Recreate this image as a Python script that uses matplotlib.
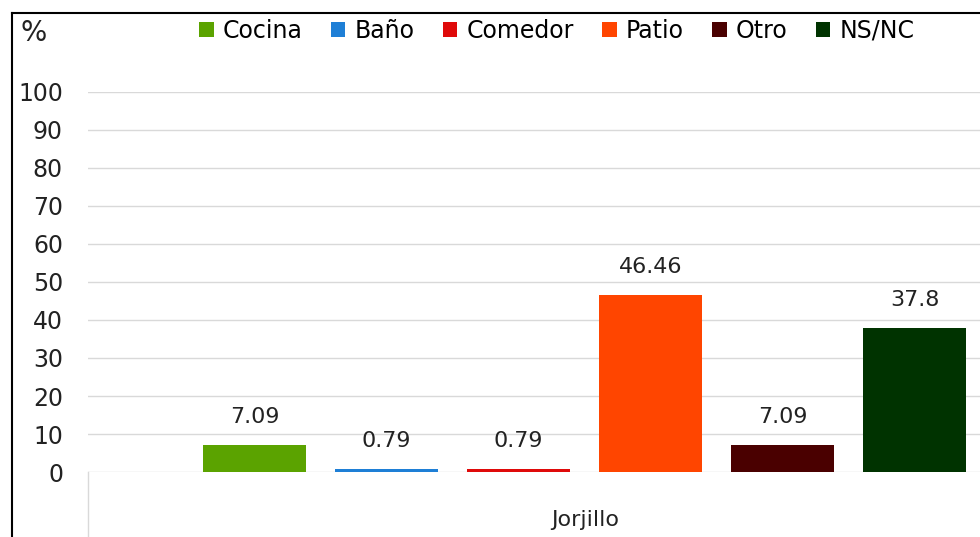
import numpy as np
import matplotlib.pyplot as plt
from matplotlib.patches import Patch
from matplotlib.lines import Line2D

# データ
categories = ['Cocina', 'Baño', 'Comedor', 'Patio', 'Otro', 'NS/NC']
values = [7.09, 0.79, 0.79, 46.46, 7.09, 37.8]
value_labels = ['7.09', '0.79', '0.79', '46.46', '7.09', '37.8']
colors = ['#5BA300', '#1E7FD6', '#DF0A0A', '#FF4500', '#4A0000', '#003300']
group_label = 'Jorjillo'
y_ticks = list(range(0, 101, 10))

W, H = 980, 537
fig = plt.figure(figsize=(W / 100, H / 100), dpi=100)

# 描画領域 (ピクセル位置から)
ax_left, ax_right = 88, 980
ax_bottom, ax_top = 472, 92
ax = fig.add_axes([ax_left / W, 1 - ax_bottom / H,
                   (ax_right - ax_left) / W, (ax_bottom - ax_top) / H])

x = np.arange(len(categories))
ax.bar(x, values, width=0.78, color=colors, zorder=3)

for xi, v, lab in zip(x, values, value_labels):
    ax.annotate(lab, (xi, v), xytext=(0, 13), textcoords='offset points',
                ha='center', va='bottom', fontsize=16, color='#222222')

ax.set_ylim(0, 100)
ax.set_xlim(-1.261, 5.496)
ax.set_yticks(y_ticks)
ax.set_yticklabels([str(t) for t in y_ticks], fontsize=17, color='#222222')
ax.tick_params(axis='y', length=0, pad=18)
ax.set_xticks([])
ax.grid(axis='y', color='#D9D9D9', linewidth=1, zorder=0)
for s in ax.spines.values():
    s.set_visible(False)

# カテゴリ軸の枠線とラベル
fig.add_artist(Line2D([ax_left / W, ax_left / W], [0, 1 - ax_bottom / H],
                      color='#D9D9D9', linewidth=1))
fig.text(585 / W, 1 - 520 / H, group_label, ha='center', va='center',
         fontsize=16, color='#222222')

# 外枠
fig.add_artist(Line2D([12 / W, 12 / W], [0, 1 - 13 / H], color='black', linewidth=1.5))
fig.add_artist(Line2D([12 / W, 1], [1 - 13 / H, 1 - 13 / H], color='black', linewidth=1.5))

fig.text(20 / W, 1 - 33 / H, '%', ha='left', va='center', fontsize=20, color='#222222')

handles = [Patch(facecolor=c) for c in colors]
fig.legend(handles, categories, loc='center', bbox_to_anchor=(557 / W, 1 - 31 / H),
           ncol=6, frameon=False, handlelength=0.6, handleheight=0.6,
           handletextpad=0.4, columnspacing=1.2,
           prop={'family': 'DejaVu Sans', 'size': 17})

fig.savefig('out.png', dpi=100)
